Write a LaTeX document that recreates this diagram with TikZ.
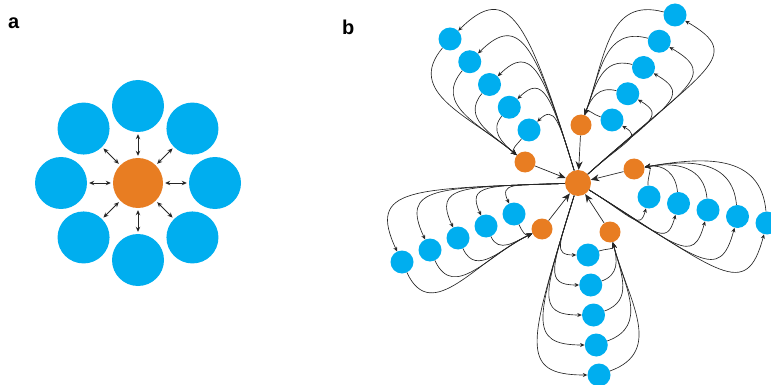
\documentclass[tikz,border=0pt]{standalone}
\usepackage{fontspec}
\setmainfont{Liberation Sans}
\usepackage{tikz}
\usetikzlibrary{arrows.meta, calc}
\definecolor{nodeblue}{HTML}{00AEEF}
\definecolor{nodeorange}{HTML}{E87D22}
\definecolor{edgegray}{HTML}{262626}

\begin{document}
\begin{tikzpicture}[
    x=1pt, y=1pt,
    panel/.style={font=\bfseries\fontsize{20}{20}\selectfont, anchor=base west, inner sep=0pt},
    leaf/.style={circle, fill=nodeblue, inner sep=0pt, minimum size=52pt},
    core/.style={circle, fill=nodeorange, inner sep=0pt, minimum size=50pt},
    link/.style={<->, >={Stealth[length=5pt,width=4.5pt]}, line width=0.75pt, draw=edgegray, shorten <=2pt, shorten >=2pt},
    hub/.style={circle, fill=nodeorange, inner sep=0pt, minimum size=26pt},
    relay/.style={circle, fill=nodeorange, inner sep=0pt, minimum size=21pt},
    member/.style={circle, fill=nodeblue, inner sep=0pt, minimum size=23pt},
    spoke/.style={-{Stealth[length=4.5pt,width=4pt]}, line width=0.65pt, draw=edgegray},
    backlink/.style={-{Stealth[length=6pt,width=5pt]}, line width=0.65pt, draw=edgegray},
    feed/.style={-{Stealth[length=8.5pt,width=7pt]}, line width=0.7pt, draw=edgegray}
]
    \useasboundingbox (0,0) rectangle (771,-385);

    \node[panel] (labela) at (8,-29) {a};
    \node[panel] (labelb) at (342,-35) {b};

    \node[core] (center) at (138,-183) {};
    \foreach \a [count=\n] in {90,45,0,-45,-90,-135,180,135} {
        \node[leaf] (leaf\n) at ($(center)+(\a:77)$) {};
        \draw[link] (center) -- (leaf\n);
    }

    \node[hub] (hub) at (578,-183) {};
    \node[relay] (r1) at (525,-162) {};
    \node[relay] (r2) at (581,-125) {};
    \node[relay] (r3) at (634,-169) {};
    \node[relay] (r4) at (610,-232) {};
    \node[relay] (r5) at (542,-229) {};

    \foreach \k/\x/\y/\dx/\dy in {1/529/130/-19.75/-22.75, 2/612/120/15.75/-26.25, 3/649/197/29.5/6.5, 4/588/255/2.75/30, 5/514/214/-28/12}
        \foreach \i in {1,...,5}
            \node[member] (m\k\i) at ({\x+(\i-1)*\dx}, {-\y-(\i-1)*\dy}) {};

    \foreach \k/\ho/\bi/\bo/\oi in {1/107/45/230/140, 2/42/-30/165/70, 3/-32/-105/95/10, 4/-107/180/20/-75, 5/182/115/-65/-155} {
        \foreach \i in {1,...,5} {
            \draw[spoke] (hub) to[out=\ho, in=\bi, out looseness=2.2, in looseness=1] (m\k\i);
            \draw[backlink] (m\k\i) to[out=\bo, in=\oi, out looseness=1.15, in looseness=1.2] (r\k);
        }
        \draw[feed] (r\k) -- (hub);
    }
\end{tikzpicture}
\end{document}
